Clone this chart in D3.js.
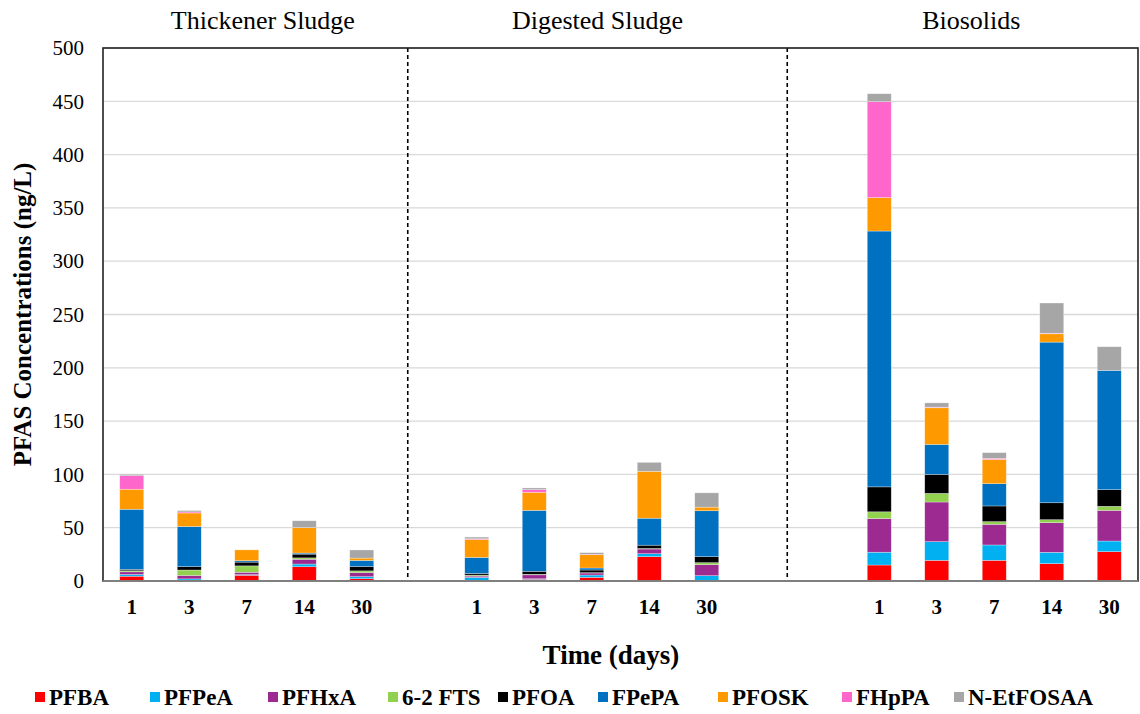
<!DOCTYPE html>
<html>
<head>
<meta charset="utf-8">
<script src="https://cdn.jsdelivr.net/npm/d3@7"></script>
<style>
  body { margin: 0; background: #fff; }
</style>
</head>
<body>
<svg></svg>
<script>
var viewWidth = 1140;
var viewHeight = 714;
var serif = "'Liberation Serif', 'Times New Roman', Times, 'Nimbus Roman', Tinos, 'Noto Serif', 'DejaVu Serif', serif";

// data (ng/L)
var groups = ["Thickener Sludge", "Digested Sludge", "Biosolids"];
var days = ["1", "3", "7", "14", "30"];
var compounds = ["PFBA", "PFPeA", "PFHxA", "6-2 FTS", "PFOA", "FPePA", "PFOSK", "FHpPA", "N-EtFOSAA"];
var colors = ["#ff0000", "#00b0f0", "#9c2a90", "#92d050", "#000000", "#0070c0", "#ff9900", "#ff66cc", "#a6a6a6"];

// one row per bar, values in compound order
var thickener = [
  [4.5, 1.6, 2.5, 1.0, 1.3, 56.4, 18.8, 12.7, 1.3],
  [0.5, 1.5, 3.2, 5.1, 3.2, 37.6, 12.7, 1.0, 1.3],
  [5.4, 0.6, 2.2, 6.0, 3.5, 1.3, 10.2, 0, 0],
  [13.4, 2.5, 4.5, 1.3, 3.5, 1.0, 23.9, 0, 6.4],
  [2.2, 1.9, 3.8, 1.6, 4.1, 5.7, 2.2, 0, 7.6]
];
var digested = [
  [0, 3.4, 1.2, 0.9, 1.6, 15.0, 16.9, 0.6, 1.6],
  [1.6, 0.5, 3.7, 0.5, 2.8, 57.2, 16.9, 2.5, 1.6],
  [3.4, 2.2, 1.9, 0.3, 2.5, 1.9, 12.5, 0.3, 1.6],
  [22.8, 2.8, 4.4, 0.5, 3.1, 25.3, 44.0, 0, 8.4],
  [0.3, 4.7, 10.3, 1.9, 5.6, 43.1, 3.4, 0, 13.4]
];
var biosolids = [
  [15.0, 12.0, 31.6, 6.3, 23.4, 240.0, 31.3, 90.0, 7.5],
  [19.4, 17.5, 37.2, 8.1, 17.8, 28.1, 34.4, 0.6, 4.0],
  [19.4, 14.4, 19.4, 2.5, 14.7, 20.9, 22.8, 1.0, 5.3],
  [16.3, 10.6, 27.8, 2.8, 15.9, 150.7, 7.8, 0.5, 28.4],
  [27.5, 10.0, 28.8, 3.75, 15.6, 111.9, 0, 0, 22.2]
];

// slot positions of the groups on the category axis (18 slots, blanks between groups)
var groupStart = [0, 6, 13];
var separators = [5.3, 11.9];
var slotCount = 18;
var yTicks = [0, 50, 100, 150, 200, 250, 300, 350, 400, 450, 500];

var margin = {top: 48, right: 2, bottom: 133, left: 103};
var width = viewWidth - margin.left - margin.right;
var height = viewHeight - margin.top - margin.bottom;

var svg = d3.select("svg")
    .attr("width", viewWidth)
    .attr("height", viewHeight)
    .style("font-family", serif);

var g = svg.append("g")
    .attr("transform", "translate(" + margin.left + "," + margin.top + ")");

var xScale = d3.scaleLinear().domain([0, slotCount]).range([0, width]);
var yScale = d3.scaleLinear().domain([0, 500]).range([height, 0]);
var barWidth = 24;

// gridlines
g.selectAll(".grid")
  .data(yTicks.slice(1))
  .enter().append("line")
  .attr("x1", 0).attr("x2", width)
  .attr("y1", function(d){ return yScale(d); })
  .attr("y2", function(d){ return yScale(d); })
  .attr("stroke", "#d9d9d9")
  .attr("stroke-width", 1.3);

// flatten to bars
var allData = [thickener, digested, biosolids];
var bars = [];
allData.forEach(function(set, gi){
  set.forEach(function(vals, di){
    var row = {slot: groupStart[gi] + di, day: days[di]};
    compounds.forEach(function(c, ci){ row[c] = vals[ci]; });
    bars.push(row);
  });
});

var stack = d3.stack().keys(compounds)(bars);

g.selectAll(".series")
  .data(stack)
  .enter().append("g")
  .attr("fill", function(d, i){ return colors[i]; })
  .selectAll("rect")
  .data(function(d){ return d; })
  .enter().append("rect")
  .attr("x", function(d){ return xScale(d.data.slot + 0.5) - barWidth / 2; })
  .attr("width", barWidth)
  .attr("y", function(d){ return yScale(d[1]); })
  .attr("height", function(d){ return Math.max(0, yScale(d[0]) - yScale(d[1])); })
  .attr("stroke", "#ffffff")
  .attr("stroke-opacity", 0.5)
  .attr("stroke-width", 0.6);

// dashed separators
g.selectAll(".sep")
  .data(separators)
  .enter().append("line")
  .attr("x1", function(d){ return xScale(d); })
  .attr("x2", function(d){ return xScale(d); })
  .attr("y1", 0).attr("y2", height)
  .attr("stroke", "#000")
  .attr("stroke-width", 1.6)
  .attr("stroke-dasharray", "4,3");

// frame
g.append("rect")
  .attr("x", 0).attr("y", 0)
  .attr("width", width).attr("height", height)
  .attr("fill", "none")
  .attr("stroke", "#222")
  .attr("stroke-width", 1.6);
g.append("line")
  .attr("x1", 0).attr("x2", width)
  .attr("y1", height).attr("y2", height)
  .attr("stroke", "#7f7f7f")
  .attr("stroke-width", 2);

// y axis
var yAxis = d3.axisLeft(yScale).tickValues(yTicks).tickSize(0).tickPadding(19);
var yg = g.append("g").call(yAxis).attr("font-family", null);
yg.select(".domain").remove();
yg.selectAll("text")
  .attr("font-size", 21)
  .attr("fill", "#000");

// x tick labels
g.selectAll(".xlab")
  .data(bars)
  .enter().append("text")
  .attr("x", function(d){ return xScale(d.slot + 0.5); })
  .attr("y", height + 33)
  .attr("text-anchor", "middle")
  .attr("font-size", 21)
  .attr("font-weight", "bold")
  .text(function(d){ return d.day; });

// group titles
svg.selectAll(".gtitle")
  .data(groups)
  .enter().append("text")
  .attr("x", function(d, i){ return margin.left + [xScale(2.78), xScale(8.6), xScale(15.1)][i]; })
  .attr("y", 29)
  .attr("text-anchor", "middle")
  .attr("font-size", 26)
  .text(function(d){ return d; });

// axis titles
svg.append("text")
  .attr("x", 611)
  .attr("y", 664)
  .attr("text-anchor", "middle")
  .attr("font-size", 27)
  .attr("font-weight", "bold")
  .text("Time (days)");

svg.append("text")
  .attr("transform", "translate(31," + (margin.top + height / 2) + ") rotate(-90)")
  .attr("text-anchor", "middle")
  .attr("font-size", 25)
  .attr("font-weight", "bold")
  .text("PFAS Concentrations (ng/L)");

// legend
var legendX = [35, 150, 268, 388, 498, 598, 718, 842, 954];
var legend = svg.selectAll(".leg")
  .data(compounds)
  .enter().append("g")
  .attr("transform", function(d, i){ return "translate(" + legendX[i] + ",697)"; });
legend.append("rect")
  .attr("x", 0).attr("y", -5)
  .attr("width", 10).attr("height", 10)
  .attr("fill", function(d, i){ return colors[i]; });
legend.append("text")
  .attr("x", 14)
  .attr("y", 8)
  .attr("font-size", 23)
  .attr("font-weight", "bold")
  .text(function(d){ return d; });
</script>
</body>
</html>
